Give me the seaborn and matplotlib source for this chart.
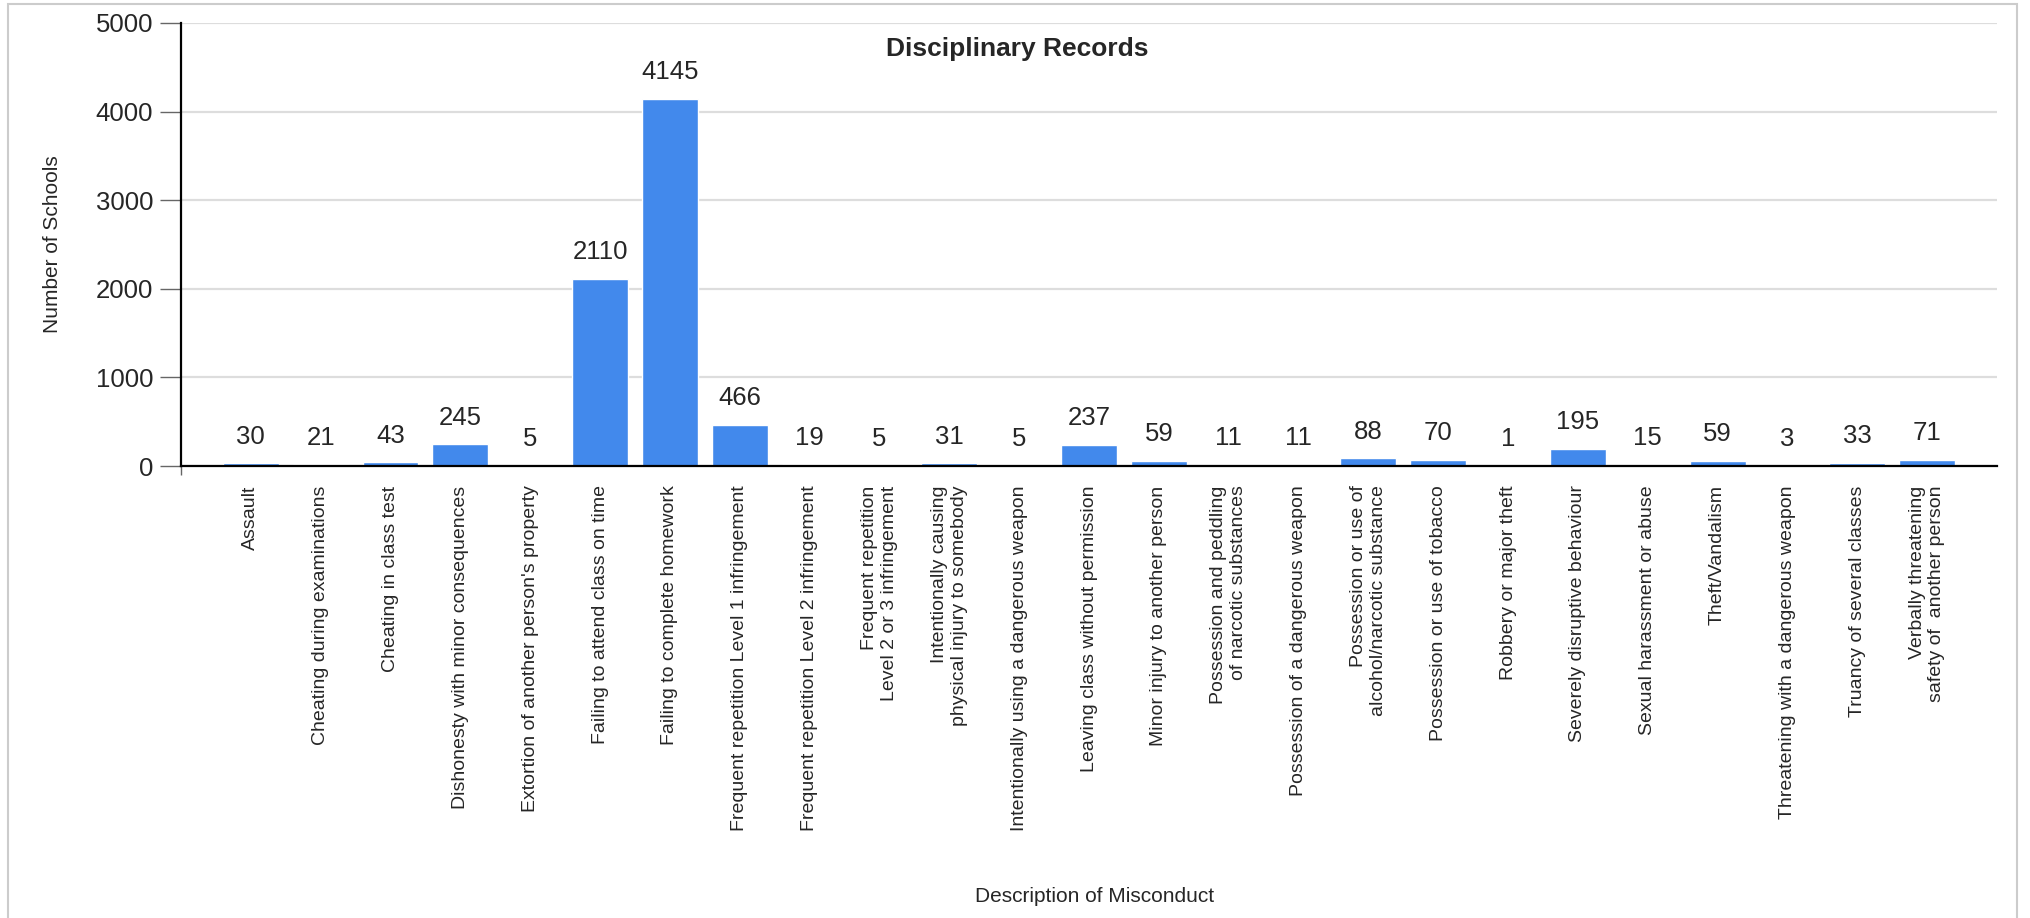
import matplotlib
matplotlib.use("Agg")
import matplotlib.pyplot as plt
import seaborn as sns
from matplotlib.patches import Rectangle

# Disciplinary records data
misconduct = [
    "Assault",
    "Cheating during examinations",
    "Cheating in class test",
    "Dishonesty with minor consequences",
    "Extortion of another person's property",
    "Failing to attend class on time",
    "Failing to complete homework",
    "Frequent repetition Level 1 infringement",
    "Frequent repetition Level 2 infringement",
    "Frequent repetition\nLevel 2 or 3 infringement",
    "Intentionally causing\nphysical injury to somebody",
    "Intentionally using a dangerous weapon",
    "Leaving class without permission",
    "Minor injury to another person",
    "Possession and peddling\nof narcotic substances",
    "Possession of a dangerous weapon",
    "Possession or use of\nalcohol/narcotic substance",
    "Possession or use of tobacco",
    "Robbery or major theft",
    "Severely disruptive behaviour",
    "Sexual harassment or abuse",
    "Theft/Vandalism",
    "Threatening with a dangerous weapon",
    "Truancy of several classes",
    "Verbally threatening\nsafety of  another person",
]
schools = [30, 21, 43, 245, 5, 2110, 4145, 466, 19, 5, 31, 5, 237, 59, 11,
           11, 88, 70, 1, 195, 15, 59, 3, 33, 71]
y_ticks = [0, 1000, 2000, 3000, 4000, 5000]
marker_ticks = [-1, 4, 9, 14, 19, 24]

sns.set_style("white")
plt.rcParams["font.family"] = ["Liberation Sans", "DejaVu Sans"]

fig = plt.figure(figsize=(20.3, 9.18), dpi=100)
ax = fig.add_axes([181 / 2030, 1 - 466 / 918, 1816 / 2030, 443 / 918])

sns.barplot(x=misconduct, y=schools, color="#4289ec", saturation=1,
            width=0.8, ax=ax)
ax.bar_label(ax.containers[0], padding=10.5, fontsize=18.5)

# Axes limits, grid and spines
ax.set_xlim(-1, 25)
ax.set_ylim(0, 5000)
ax.set_yticks(y_ticks)
ax.yaxis.grid(True, color="#dddddd", linewidth=1.6)
ax.set_axisbelow(True)
for side in ["top", "right"]:
    ax.spines[side].set_visible(False)
for side in ["left", "bottom"]:
    ax.spines[side].set_color("black")
    ax.spines[side].set_linewidth(1.6)

ax.tick_params(axis="y", length=15, width=1, color="#666666", pad=5,
               labelsize=18.5, left=True)
ax.tick_params(axis="x", which="major", length=0, pad=14, labelsize=14)
ax.set_xticks(marker_ticks, minor=True)
ax.tick_params(axis="x", which="minor", length=6.5, width=1,
               color="#666666", bottom=True)
plt.setp(ax.get_xticklabels(), rotation=90, ha="center", va="top",
         multialignment="right")

ax.set_ylabel("Number of Schools", fontsize=15)
ax.yaxis.set_label_coords(-0.0655, 0.5)
ax.set_xlabel("")
fig.text(1095 / 2030, 1 - 897 / 918, "Description of Misconduct",
         fontsize=15, ha="center", va="center")
fig.text(1017 / 2030, 1 - 49 / 918, "Disciplinary Records",
         fontsize=19, fontweight="bold", ha="center", va="center")

# Light outer frame around the chart
fig.patches.append(Rectangle((8 / 2030, -0.01), 2009 / 2030, 1.01 - 4 / 918,
                             transform=fig.transFigure, fill=False,
                             edgecolor="#cccccc", linewidth=1.5))

fig.savefig("out.png", dpi=100)
